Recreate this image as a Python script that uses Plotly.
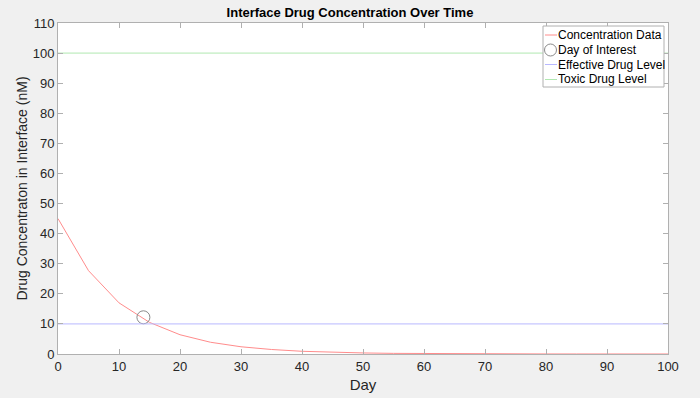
import plotly.graph_objects as go

days = [0, 5, 10, 15, 20, 25, 30, 35, 40, 45, 50, 55, 60, 65, 70, 75, 80, 85, 90, 95, 100]
conc = [45, 27.7, 17.0, 10.5, 6.4, 3.9, 2.4, 1.5, 0.9, 0.57, 0.35, 0.21, 0.13, 0.08, 0.05,
        0.03, 0.02, 0.012, 0.008, 0.005, 0.003]
interest_day = [14]
interest_conc = [12.2]
effective_level = 10
toxic_level = 100
x_range = [0, 100]
y_range = [0, 110]
x_ticks = list(range(0, 101, 10))
y_ticks = list(range(0, 111, 10))
legend_names = ["Concentration Data", "Day of Interest", "Effective Drug Level", "Toxic Drug Level"]

RED = "#ff8c8c"
GRAY = "#8a8a8a"
BLUE = "#b8b8ff"
GREEN = "#b0e8b0"
AXIS = "#b0b0b0"
TXT = "#262626"
font = "Liberation Sans, Arial, sans-serif"

W, H = 700, 398
ML, MR, MT, MB = 58, 32, 23, 44
PW, PH = W - ML - MR, H - MT - MB


def px(xp):
    return (xp - ML) / PW


def py(yp):
    return (H - MB - yp) / PH


fig = go.Figure()
fig.add_trace(go.Scatter(x=days, y=conc, mode="lines", name=legend_names[0],
                         line=dict(color=RED, width=1)))
fig.add_trace(go.Scatter(x=interest_day, y=interest_conc, mode="markers", name=legend_names[1],
                         marker=dict(symbol="circle-open", size=13, color=GRAY,
                                     line=dict(width=1, color=GRAY))))
fig.add_trace(go.Scatter(x=x_range, y=[effective_level] * 2, mode="lines", name=legend_names[2],
                         line=dict(color=BLUE, width=1)))
fig.add_trace(go.Scatter(x=x_range, y=[toxic_level] * 2, mode="lines", name=legend_names[3],
                         line=dict(color=GREEN, width=1)))

# compact MATLAB-style legend box
shapes = [dict(type="rect", xref="paper", yref="paper", x0=px(543), x1=px(664), y0=py(87), y1=py(26),
               fillcolor="#ffffff", line=dict(color=AXIS, width=1), layer="above")]
row_y = [35, 50, 64.5, 79.5]
styles = [("line", RED), ("circle", GRAY), ("line", BLUE), ("line", GREEN)]
annotations = []
for (kind, col), yy, name in zip(styles, row_y, legend_names):
    if kind == "line":
        shapes.append(dict(type="line", xref="paper", yref="paper", x0=px(545), x1=px(557),
                           y0=py(yy), y1=py(yy), line=dict(color=col, width=1), layer="above"))
    else:
        shapes.append(dict(type="circle", xref="paper", yref="paper", x0=px(544.5), x1=px(556.5),
                           y0=py(yy + 6), y1=py(yy - 6), line=dict(color=col, width=1), layer="above"))
    annotations.append(dict(xref="paper", yref="paper", x=px(556), y=py(yy), xanchor="left",
                            yanchor="middle", showarrow=False, text=name,
                            font=dict(family=font, size=12, color="#000000")))

axis_common = dict(showgrid=False, zeroline=False, showline=True, linecolor=AXIS, linewidth=1,
                   mirror="ticks", ticks="inside", ticklen=5, tickcolor=AXIS, automargin=False,
                   tickfont=dict(family=font, size=13, color=TXT))
fig.update_xaxes(range=x_range, tickvals=x_ticks,
                 title=dict(text="Day", font=dict(family=font, size=15, color=TXT), standoff=6),
                 **axis_common)
fig.update_yaxes(range=y_range, tickvals=y_ticks,
                 title=dict(text="Drug Concentraton in Interface (nM)", font=dict(family=font, size=14, color=TXT), standoff=1),
                 **axis_common)
fig.update_layout(
    width=W, height=H,
    margin=dict(l=ML, r=MR, t=MT, b=MB),
    paper_bgcolor="#f0f0f0", plot_bgcolor="#ffffff",
    title=dict(text="<b>Interface Drug Concentration Over Time</b>", x=0.5, xanchor="center",
               y=1 - 12 / H, yanchor="middle", font=dict(family=font, size=13, color="#000000")),
    showlegend=False,
    shapes=shapes,
    annotations=annotations,
)
fig.write_html("out.html")
